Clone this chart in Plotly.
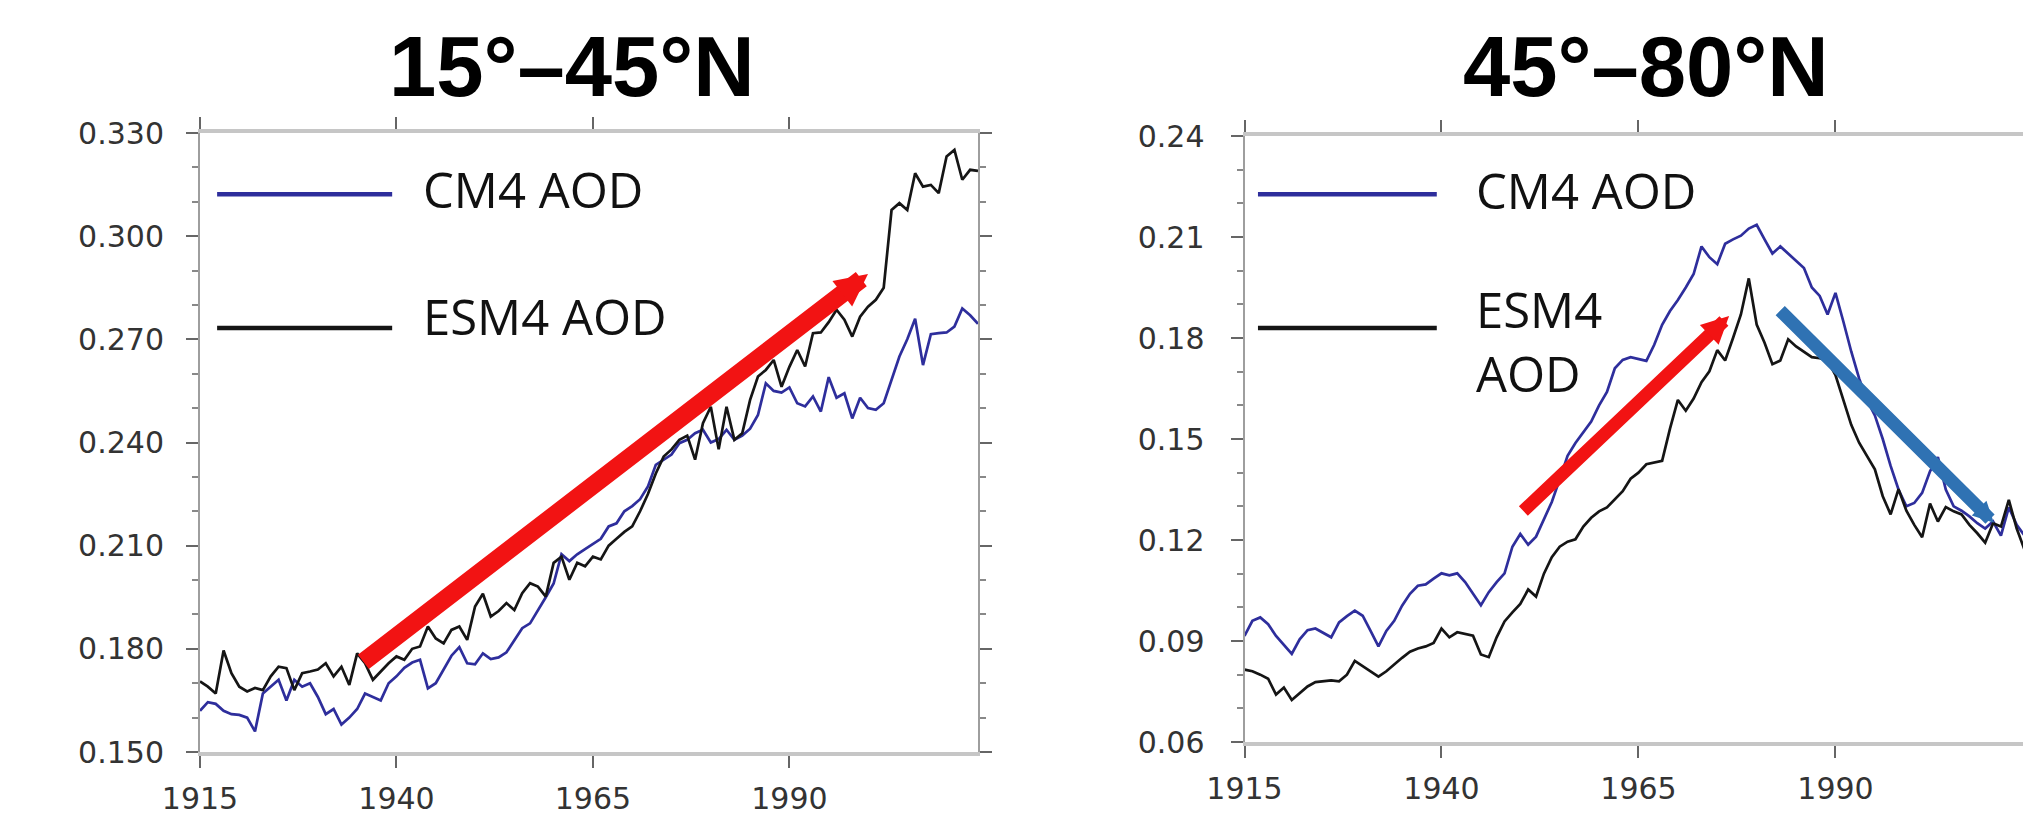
import plotly.graph_objects as go

years = list(range(1915, 2015))

cm4_15_45 = [
    0.1620, 0.1645, 0.1640, 0.1620, 0.1610, 0.1608, 0.1600, 0.1560, 0.1670, 0.1690,
    0.1710, 0.1650, 0.1710, 0.1690, 0.1700, 0.1660, 0.1610, 0.1625, 0.1580, 0.1600,
    0.1625, 0.1670, 0.1660, 0.1650, 0.1700, 0.1720, 0.1745, 0.1760, 0.1768, 0.1685,
    0.1700, 0.1740, 0.1780, 0.1805, 0.1758, 0.1755, 0.1787, 0.1770, 0.1775, 0.1790,
    0.1826, 0.1860, 0.1874, 0.1910, 0.1950, 0.1990, 0.2075, 0.2055, 0.2075, 0.2090,
    0.2105, 0.2120, 0.2156, 0.2165, 0.2200, 0.2215, 0.2235, 0.2272, 0.2335, 0.2350,
    0.2365, 0.2398, 0.2408, 0.2427, 0.2437, 0.2400, 0.2410, 0.2437, 0.2408, 0.2420,
    0.2440, 0.2480, 0.2572, 0.2550, 0.2545, 0.2560, 0.2514, 0.2505, 0.2534, 0.2490,
    0.2590, 0.2530, 0.2543, 0.2470, 0.2530, 0.2500, 0.2495, 0.2514, 0.2582, 0.2650,
    0.2700, 0.2760, 0.2625, 0.2715, 0.2718, 0.2720, 0.2737, 0.2790, 0.2770, 0.2745,
]
esm4_15_45 = [
    0.1705, 0.1690, 0.1670, 0.1795, 0.1729, 0.1690, 0.1676, 0.1686, 0.1680, 0.1720,
    0.1748, 0.1744, 0.1680, 0.1729, 0.1734, 0.1740, 0.1758, 0.1720, 0.1748, 0.1695,
    0.1787, 0.1758, 0.1710, 0.1734, 0.1758, 0.1778, 0.1768, 0.1800, 0.1807, 0.1865,
    0.1830, 0.1816, 0.1855, 0.1865, 0.1826, 0.1923, 0.1960, 0.1894, 0.1910, 0.1933,
    0.1913, 0.1962, 0.1991, 0.1981, 0.1952, 0.2050, 0.2068, 0.2001, 0.2050, 0.2040,
    0.2068, 0.2060, 0.2100, 0.2120, 0.2140, 0.2156, 0.2200, 0.2250, 0.2310, 0.2359,
    0.2380, 0.2408, 0.2420, 0.2350, 0.2456, 0.2504, 0.2380, 0.2504, 0.2408, 0.2427,
    0.2524, 0.2592, 0.2611, 0.2640, 0.2562, 0.2620, 0.2669, 0.2621, 0.2718, 0.2720,
    0.2750, 0.2786, 0.2757, 0.2708, 0.2766, 0.2795, 0.2815, 0.2850, 0.3076, 0.3096,
    0.3076, 0.3183, 0.3144, 0.3149, 0.3125, 0.3232, 0.3251, 0.3164, 0.3193, 0.3190,
]
cm4_45_80 = [
    0.0915, 0.0960, 0.0970, 0.0950, 0.0915, 0.0890, 0.0862, 0.0905, 0.0932, 0.0937,
    0.0925, 0.0911, 0.0955, 0.0974, 0.0990, 0.0975, 0.0930, 0.0884, 0.0930, 0.0960,
    0.1005, 0.1040, 0.1064, 0.1068, 0.1085, 0.1101, 0.1095, 0.1101, 0.1075, 0.1040,
    0.1006, 0.1045, 0.1075, 0.1101, 0.1180, 0.1218, 0.1186, 0.1210, 0.1260, 0.1313,
    0.1380, 0.1450, 0.1488, 0.1520, 0.1552, 0.1600, 0.1640, 0.1710, 0.1735, 0.1743,
    0.1738, 0.1732, 0.1780, 0.1839, 0.1880, 0.1913, 0.1950, 0.1990, 0.2072, 0.2040,
    0.2019, 0.2080, 0.2093, 0.2104, 0.2125, 0.2136, 0.2093, 0.2051, 0.2072, 0.2050,
    0.2030, 0.2008, 0.1950, 0.1925, 0.1870, 0.1934, 0.1849, 0.1760, 0.1680, 0.1616,
    0.1570, 0.1500, 0.1420, 0.1350, 0.1300, 0.1310, 0.1340, 0.1404, 0.1446, 0.1350,
    0.1300, 0.1287, 0.1270, 0.1250, 0.1234, 0.1255, 0.1213, 0.1297, 0.1245, 0.1213,
]
esm4_45_80 = [
    0.0815, 0.0810, 0.0800, 0.0788, 0.0741, 0.0762, 0.0725, 0.0745, 0.0765, 0.0778,
    0.0780, 0.0783, 0.0780, 0.0800, 0.0841, 0.0825, 0.0810, 0.0794, 0.0810, 0.0831,
    0.0850, 0.0868, 0.0878, 0.0884, 0.0894, 0.0937, 0.0911, 0.0926, 0.0920, 0.0916,
    0.0860, 0.0852, 0.0911, 0.0958, 0.0985, 0.1010, 0.1053, 0.1032, 0.1100, 0.1149,
    0.1180, 0.1195, 0.1202, 0.1240, 0.1266, 0.1285, 0.1297, 0.1320, 0.1345, 0.1382,
    0.1400, 0.1425, 0.1430, 0.1435, 0.1531, 0.1616, 0.1584, 0.1620, 0.1669, 0.1701,
    0.1764, 0.1733, 0.1800, 0.1870, 0.1977, 0.1840, 0.1786, 0.1722, 0.1733, 0.1796,
    0.1775, 0.1760, 0.1743, 0.1740, 0.1733, 0.1690, 0.1616, 0.1542, 0.1489, 0.1450,
    0.1410, 0.1330, 0.1276, 0.1351, 0.1287, 0.1245, 0.1208, 0.1308, 0.1255, 0.1298,
    0.1285, 0.1276, 0.1245, 0.1220, 0.1192, 0.1250, 0.1240, 0.1319, 0.1234, 0.1171,
]

x_ticks = [1915, 1940, 1965, 1990]
y_ticks_left = [0.150, 0.180, 0.210, 0.240, 0.270, 0.300, 0.330]
y_ticks_right = [0.06, 0.09, 0.12, 0.15, 0.18, 0.21, 0.24]
titles = ["15°–45°N", "45°–80°N"]
legend_names = ["CM4 AOD", "ESM4 AOD"]

# arrows: (tail_x, tail_y, tip_x, tip_y)
arrow_left_red = (1935.6, 0.1759, 2000.0, 0.2890)
arrow_right_red = (1950.2, 0.1282, 1976.5, 0.1865)
arrow_right_blue = (1982.8, 0.1886, 2010.1, 0.1251)

BLUE = "#2e2e9c"
BLACK = "#151515"
RED = "#f21313"
STEEL = "#2f72b3"

fig = go.Figure()
fig.add_trace(go.Scatter(x=years, y=cm4_15_45, mode="lines", line=dict(color=BLUE, width=2.7),
                         xaxis="x", yaxis="y", showlegend=False))
fig.add_trace(go.Scatter(x=years, y=esm4_15_45, mode="lines", line=dict(color=BLACK, width=2.7),
                         xaxis="x", yaxis="y", showlegend=False))
fig.add_trace(go.Scatter(x=years, y=cm4_45_80, mode="lines", line=dict(color=BLUE, width=2.7),
                         xaxis="x2", yaxis="y2", showlegend=False))
fig.add_trace(go.Scatter(x=years, y=esm4_45_80, mode="lines", line=dict(color=BLACK, width=2.7),
                         xaxis="x2", yaxis="y2", showlegend=False))

W, H = 2023, 819
tick_font = dict(family="DejaVu Sans", size=30, color="#333333")

def xaxis_cfg(domain, rng, anchor):
    return dict(domain=domain, range=rng, anchor=anchor, tickmode="array", tickvals=x_ticks,
                ticks="outside", ticklen=12, tickwidth=2, tickcolor="#666666",
                showline=True, linewidth=4, linecolor="#c6c6c6", mirror="ticks",
                showgrid=False, zeroline=False, tickfont=tick_font, ticklabelstandoff=5,
                automargin=False)

def yaxis_cfg(domain, rng, anchor, tv, fmt, standoff):
    return dict(domain=domain, range=rng, anchor=anchor, tickmode="array", tickvals=tv,
                tickformat=fmt, ticks="outside", ticklen=12, tickwidth=2, tickcolor="#666666",
                minor=dict(dtick=0.01, tick0=0, ticks="outside", ticklen=6, tickwidth=1.5,
                           tickcolor="#888888", showgrid=False),
                showline=True, linewidth=2, linecolor="#9e9e9e", mirror="ticks",
                showgrid=False, zeroline=False, tickfont=tick_font, ticklabelstandoff=standoff,
                automargin=False)

fig.update_layout(
    width=W, height=H,
    margin=dict(l=0, r=0, t=0, b=0),
    paper_bgcolor="white", plot_bgcolor="white",
    xaxis=xaxis_cfg([200 / W, 978 / W], [1915, 2014], "y"),
    yaxis=yaxis_cfg([1 - 752 / H, 1 - 133 / H], [0.150, 0.330], "x", y_ticks_left, ".3f", 16),
    xaxis2=xaxis_cfg([1244.5 / W, 1.0], [1915, 2013.8], "y2"),
    yaxis2=yaxis_cfg([1 - 742 / H, 1 - 136 / H], [0.06, 0.24], "x2", y_ticks_right, ".2f", 20),
)

# titles
for t, xc in zip(titles, [572 / W, 1646 / W]):
    fig.add_annotation(text=t, xref="paper", yref="paper", x=xc, y=1 - 66 / H,
                       xanchor="center", yanchor="middle", showarrow=False,
                       font=dict(family="Liberation Sans", size=85, color="black", weight="bold"))

# in-panel legends
leg_font = dict(family="Open Sans", size=49, color="#111111")
shapes = []
for (xr, yr, x0, x1, ys, tx, tys, names) in [
    ("x domain", "y domain", 0.022, 0.247, [0.901, 0.685], 0.284, [0.909, 0.704], legend_names),
    ("x2 domain", "y2 domain", 0.0173, 0.247, [0.904, 0.683], 0.295, [0.9117, 0.661],
     [legend_names[0], "ESM4<br>AOD"]),
]:
    for yy, col in zip(ys, [BLUE, BLACK]):
        shapes.append(dict(type="line", xref=xr, yref=yr, x0=x0, x1=x1, y0=yy, y1=yy,
                           line=dict(color=col, width=4.5)))
    for ty, nm in zip(tys, names):
        fig.add_annotation(text=nm, xref=xr, yref=yr, x=tx, y=ty, xanchor="left",
                           yanchor="middle", showarrow=False, align="left", font=leg_font)
fig.update_layout(shapes=shapes)

# arrows
for (arr, col, w, sz, xr, yr) in [
    (arrow_left_red, RED, 18, 0.36, "x", "y"),
    (arrow_right_red, RED, 13, 0.42, "x2", "y2"),
    (arrow_right_blue, STEEL, 13, 0.32, "x2", "y2"),
]:
    fig.add_annotation(x=arr[2], y=arr[3], ax=arr[0], ay=arr[1], xref=xr, yref=yr,
                       axref=xr, ayref=yr, text="", showarrow=True, arrowhead=2,
                       arrowsize=sz, arrowwidth=w, arrowcolor=col, standoff=0)

fig.write_html("out.html", config={"displayModeBar": False},
               post_script="document.body.style.margin='0';")
